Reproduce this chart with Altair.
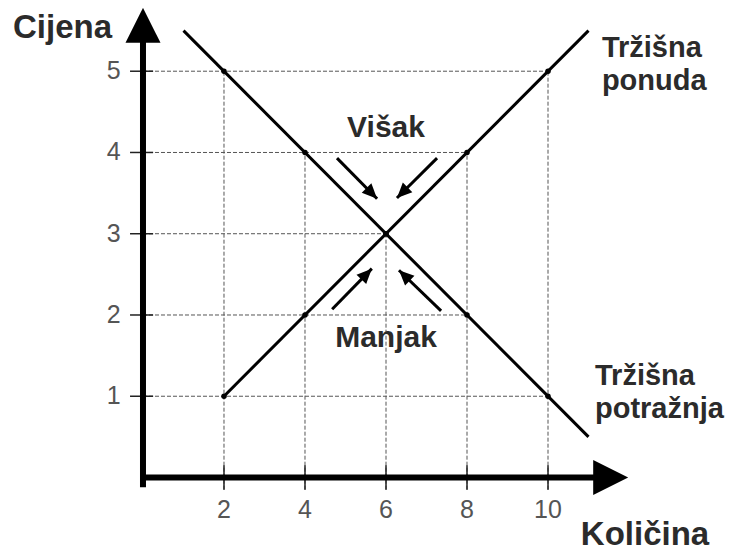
import altair as alt
import pandas as pd
import numpy as np

# ---- data ----
quantity = [2, 4, 6, 8, 10]
price_ticks = [1, 2, 3, 4, 5]
supply_price = [1, 2, 3, 4, 5]
demand_price = [5, 4, 3, 2, 1]
demand_line_q = [1, 11]
demand_line_p = [5.5, 0.5]
supply_line_q = [2, 11]
supply_line_p = [1, 5.5]

# adjustment arrows (start -> tip), in data units
arrow_x0 = [4.79, 7.26, 4.67, 7.36]
arrow_y0 = [3.93, 3.93, 2.07, 2.05]
arrow_x1 = [5.78, 6.27, 5.65, 6.32]
arrow_y1 = [3.43, 3.44, 2.57, 2.55]

# ---- layout ----
W, H = 717, 543
XD = [-3.333, 14.370]
YD = [-0.9046, 5.778]
PX = W / (XD[1] - XD[0])
PY = H / (YD[1] - YD[0])
FONT = "Liberation Sans"
TXT = "#2b2b2b"
TICK = "#555555"

xs = alt.Scale(domain=XD, nice=False, zero=False)
ys = alt.Scale(domain=YD, nice=False, zero=False)


def X(f):
    return alt.X(f, type="quantitative", scale=xs, axis=None)


def Y(f):
    return alt.Y(f, type="quantitative", scale=ys, axis=None)


# grid lines up to the curves
vtop = [max(s, d) for s, d in zip(supply_price, demand_price)]
hend = []
for p in price_ticks:
    qs = [q for q, s in zip(quantity, supply_price) if s == p] + \
         [q for q, d in zip(quantity, demand_price) if d == p]
    hend.append(max(qs))

vgrid = pd.DataFrame({"x": quantity, "y0": -0.15, "y1": vtop})
hgrid = pd.DataFrame({"y": price_ticks, "x0": 0.0, "x1": hend})

grid_v = alt.Chart(vgrid).mark_rule(color="#555", strokeWidth=1, strokeDash=[4, 2]).encode(
    x=X("x"), y=Y("y0"), y2="y1")
grid_h = alt.Chart(hgrid).mark_rule(color="#555", strokeWidth=1, strokeDash=[4, 2]).encode(
    y=Y("y"), x=X("x0"), x2="x1")

# ticks
xt = pd.DataFrame({"x": quantity, "y0": -0.15, "y1": 0.15})
yt = pd.DataFrame({"y": price_ticks, "x0": -0.32, "x1": 0.25})
ticks_x = alt.Chart(xt).mark_rule(color="#222", strokeWidth=1.5).encode(x=X("x"), y=Y("y0"), y2="y1")
ticks_y = alt.Chart(yt).mark_rule(color="#222", strokeWidth=1.5).encode(y=Y("y"), x=X("x0"), x2="x1")

# axes lines
axes_df = pd.DataFrame({"x0": [0.0, -0.07], "y0": [-0.12, 0.0], "x1": [0.0, 11.5], "y1": [5.5, 0.0]})
axes = alt.Chart(axes_df).mark_rule(color="black", strokeWidth=6).encode(
    x=X("x0"), y=Y("y0"), x2="x1", y2="y1")
heads_df = pd.DataFrame({"x": [0.0, 11.98], "y": [5.78, 0.0], "ang": [0, 90]})
heads = alt.Chart(heads_df).mark_point(
    shape="M0,0L1,2L-1,2Z", filled=True, color="black", opacity=1, size=1225, strokeWidth=0
).encode(x=X("x"), y=Y("y"), angle=alt.Angle("ang:Q", scale=None))

# curves
dem = pd.DataFrame({"q": demand_line_q, "p": demand_line_p})
sup = pd.DataFrame({"q": supply_line_q, "p": supply_line_p})
dem_line = alt.Chart(dem).mark_line(color="black", strokeWidth=3).encode(x=X("q"), y=Y("p"))
sup_line = alt.Chart(sup).mark_line(color="black", strokeWidth=3).encode(x=X("q"), y=Y("p"))

pts = pd.DataFrame({"q": quantity * 2, "p": supply_price + demand_price})
dots = alt.Chart(pts).mark_circle(color="black", size=30, opacity=1).encode(x=X("q"), y=Y("p"))

# adjustment arrows
arr = pd.DataFrame({"x0": arrow_x0, "y0": arrow_y0, "x1": arrow_x1, "y1": arrow_y1})
dx = (arr["x1"] - arr["x0"]) * PX
dy = -(arr["y1"] - arr["y0"]) * PY
arr["ang"] = (np.degrees(np.arctan2(dx, -dy)) + 360) % 360
arr_lines = alt.Chart(arr).mark_rule(color="black", strokeWidth=3).encode(
    x=X("x0"), y=Y("y0"), x2="x1", y2="y1")
arr_heads = alt.Chart(arr).mark_point(
    shape="M0,0L0.9,2L-0.9,2Z", filled=True, color="black", opacity=1, size=225, strokeWidth=0
).encode(x=X("x1"), y=Y("y1"), angle=alt.Angle("ang:Q", scale=None))

# tick labels
xl = pd.DataFrame({"x": quantity, "y": -0.5, "t": [str(v) for v in quantity]})
yl = pd.DataFrame({"y": price_ticks, "x": -0.55, "t": [str(v) for v in price_ticks]})
xlab = alt.Chart(xl).mark_text(font=FONT, fontSize=25, color=TICK, align="center", baseline="alphabetic").encode(
    x=X("x"), y=Y("y"), text="t:N")
ylab = alt.Chart(yl).mark_text(font=FONT, fontSize=25, color=TICK, align="right", baseline="middle").encode(
    x=X("x"), y=Y("y"), text="t:N")

# axis titles
axis_txt = pd.DataFrame({"x": [-3.21, 10.81], "y": [5.41, -0.83], "t": ["Cijena", "Količina"]})
# curve labels
curve_txt = pd.DataFrame({
    "x": [11.33, 11.33, 11.16, 11.16],
    "y": [5.175, 4.77, 1.138, 0.732],
    "t": ["Tržišna", "ponuda", "Tržišna", "potražnja"],
})
center_txt = pd.DataFrame({"x": [6.0, 6.0], "y": [4.19, 1.606], "t": ["Višak", "Manjak"]})

atxt = alt.Chart(axis_txt).mark_text(font=FONT, fontSize=33, fontWeight="bold", color=TXT,
                                     align="left", baseline="alphabetic").encode(
    x=X("x"), y=Y("y"), text="t:N")
ltxt = alt.Chart(curve_txt).mark_text(font=FONT, fontSize=29, fontWeight="bold", color=TXT,
                                      align="left", baseline="alphabetic").encode(
    x=X("x"), y=Y("y"), text="t:N")
ctxt = alt.Chart(center_txt).mark_text(font=FONT, fontSize=30, fontWeight="bold", color=TXT,
                                       align="center", baseline="alphabetic").encode(
    x=X("x"), y=Y("y"), text="t:N")

chart = alt.layer(
    grid_v, grid_h, ticks_x, ticks_y, axes, heads, dem_line, sup_line, dots,
    arr_lines, arr_heads, xlab, ylab, atxt, ltxt, ctxt
).properties(
    width=W, height=H, padding=0,
    autosize=alt.AutoSizeParams(type="none"),
    background="white",
).configure_view(stroke=None)

chart.save("out.html", embed_options={"renderer": "svg", "actions": False})
